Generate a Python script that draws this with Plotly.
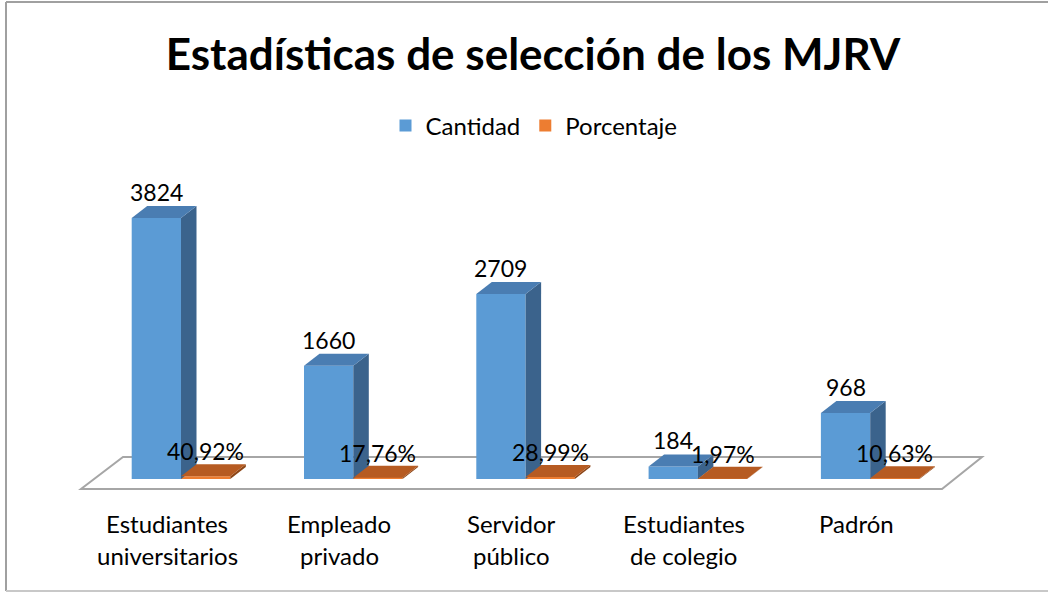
import plotly.graph_objects as go

# ---------------- data ----------------
categories = ["Estudiantes universitarios", "Empleado privado", "Servidor público",
              "Estudiantes de colegio", "Padrón"]
category_lines = [["Estudiantes", "universitarios"], ["Empleado", "privado"],
                  ["Servidor", "público"], ["Estudiantes", "de colegio"], ["Padrón"]]
cantidad = [3824, 1660, 2709, 184, 968]
porcentaje = [40.92, 17.76, 28.99, 1.97, 10.63]
porcentaje_labels = ["40,92%", "17,76%", "28,99%", "1,97%", "10,63%"]
cantidad_labels = [str(v) for v in cantidad]
title_text = "Estadísticas de selección de los MJRV"

# ---------------- layout geometry ----------------
W, H = 1048, 592
ML, MR, MT, MB = 50, 50, 150, 82
plot_w = W - ML - MR
plot_h = H - MT - MB
PX_PER_CAT = 172.3
PX_PER_UNIT = 0.06825
X0_PX = 181.0   # pixel x of category 0 center
Y0_PX = 479.0   # pixel y of value 0

def X(px):
    return (px - X0_PX) / PX_PER_CAT

def Y(py):
    return (Y0_PX - py) / PX_PER_UNIT

def DX(px):
    return px / PX_PER_CAT

def DY(py):
    return py / PX_PER_UNIT

def PX(px):
    return (px - ML) / plot_w

def PY(py):
    return (H - MB - py) / plot_h

xr = [X(ML), X(W - MR)]
yr = [Y(H - MB), Y(MT)]

BAR_W = DX(49.3)
DEPTH_X = DX(15.5)
DEPTH_Y = DY(12)

FONT = "Lato, 'Open Sans', sans-serif"
BLUE, BLUE_TOP, BLUE_SIDE = "#5B9BD5", "#4A7DB2", "#3B638C"
ORANGE, ORANGE_TOP, ORANGE_SIDE = "#ED7D31", "#B65B22", "#8C4516"

idx = list(range(len(categories)))
blue_x = [i - BAR_W / 2 for i in idx]
orange_x = [i + BAR_W / 2 for i in idx]

fig = go.Figure()
fig.add_trace(go.Bar(x=blue_x, y=cantidad, width=BAR_W, name="Cantidad",
                     marker=dict(color=BLUE, line=dict(width=0)),
                     hovertext=categories, showlegend=True))
fig.add_trace(go.Bar(x=orange_x, y=porcentaje, width=BAR_W, name="Porcentaje",
                     marker=dict(color=ORANGE, line=dict(width=0)),
                     hovertext=categories, showlegend=True))

shapes = []
# floor (decoration)
fl = [(X(81), Y(489)), (X(942), Y(489)), (X(982), Y(457)), (X(123), Y(457))]
shapes.append(dict(type="path", xref="x", yref="y", layer="below",
                   path="M %f,%f L %f,%f L %f,%f L %f,%f Z" % (fl[0] + fl[1] + fl[2] + fl[3]),
                   fillcolor="white", line=dict(color="#A6A6A6", width=2)))

def faces(c, v, top_col, side_col):
    l = c - BAR_W / 2
    r = c + BAR_W / 2
    side = "M %f,%f L %f,%f L %f,%f L %f,%f Z" % (r, 0, r, v, r + DEPTH_X, v + DEPTH_Y, r + DEPTH_X, DEPTH_Y)
    top = "M %f,%f L %f,%f L %f,%f L %f,%f Z" % (l, v, r, v, r + DEPTH_X, v + DEPTH_Y, l + DEPTH_X, v + DEPTH_Y)
    return [dict(type="path", xref="x", yref="y", layer="above", path=side,
                 fillcolor=side_col, line=dict(width=0)),
            dict(type="path", xref="x", yref="y", layer="above", path=top,
                 fillcolor=top_col, line=dict(width=0))]

for i in idx:
    shapes += faces(blue_x[i], cantidad[i], BLUE_TOP, BLUE_SIDE)
    shapes += faces(orange_x[i], porcentaje[i], ORANGE_TOP, ORANGE_SIDE)

# chart frame
shapes.append(dict(type="line", xref="paper", yref="paper", x0=PX(6), x1=PX(6), y0=PY(2), y1=PY(591),
                   line=dict(color="#A0A0A0", width=2)))
shapes.append(dict(type="line", xref="paper", yref="paper", x0=PX(6), x1=PX(W + 5), y0=PY(2), y1=PY(2),
                   line=dict(color="#A0A0A0", width=2)))
shapes.append(dict(type="line", xref="paper", yref="paper", x0=PX(6), x1=PX(W + 5), y0=PY(591), y1=PY(591),
                   line=dict(color="#C8C8C8", width=2)))

annotations = []
for i in idx:
    annotations.append(dict(x=blue_x[i], y=cantidad[i], xref="x", yref="y", text=cantidad_labels[i],
                            showarrow=False, yanchor="middle", yshift=26,
                            font=dict(family=FONT, size=23, color="black")))
    annotations.append(dict(x=orange_x[i], y=porcentaje[i], xref="x", yref="y", text=porcentaje_labels[i],
                            showarrow=False, yanchor="middle", yshift=25,
                            font=dict(family=FONT, size=23, color="black")))
    for k, line in enumerate(category_lines[i]):
        annotations.append(dict(x=i, y=PY(523 + 32 * k), xref="x", yref="paper", text=line,
                                showarrow=False, yanchor="middle", xanchor="center", xshift=-14,
                                font=dict(family=FONT, size=24, color="black")))

fig.update_layout(
    width=W, height=H,
    margin=dict(l=ML, r=MR, t=MT, b=MB, autoexpand=False),
    paper_bgcolor="white", plot_bgcolor="white",
    barmode="overlay",
    title=dict(text="<b>%s</b>" % title_text, x=533 / W, xanchor="center", xref="container",
               y=1 - 55 / H, yanchor="middle", yref="container",
               font=dict(family=FONT, size=44, color="black")),
    legend=dict(orientation="h", x=534 / W, xanchor="center", xref="container",
                y=1 - 126 / H, yanchor="middle", yref="container",
                font=dict(family=FONT, size=24, color="black"),
                itemwidth=30, tracegroupgap=0, bgcolor="rgba(0,0,0,0)"),
    xaxis=dict(range=xr, visible=False, fixedrange=True),
    yaxis=dict(range=yr, visible=False, fixedrange=True),
    shapes=shapes, annotations=annotations,
    showlegend=True,
)

fig.write_html("out.html", config={"displayModeBar": False},
               post_script="document.body.style.margin='0';document.body.style.padding='0';")
